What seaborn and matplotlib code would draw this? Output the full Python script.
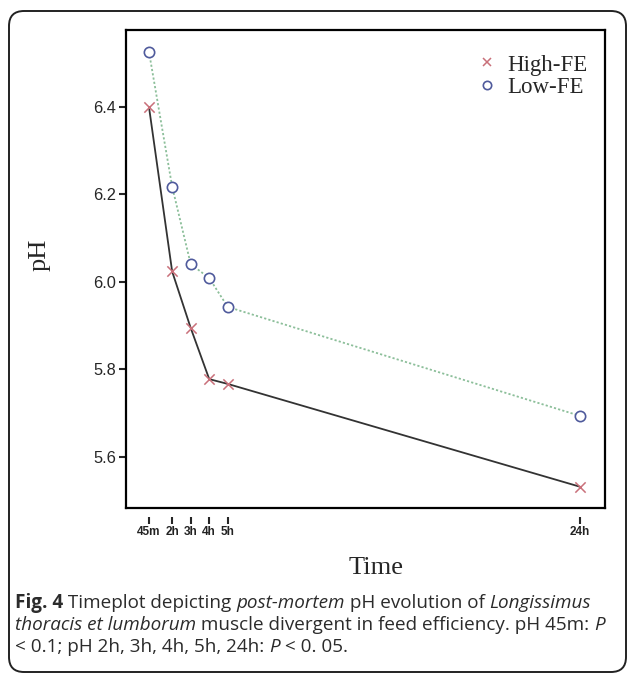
import matplotlib
matplotlib.use("Agg")
import matplotlib.pyplot as plt
import seaborn as sns
import pandas as pd
from matplotlib.patches import FancyBboxPatch
from matplotlib.lines import Line2D

# data
hours = [0.75, 2, 3, 4, 5, 24]
time_labels = ["45m", "2h", "3h", "4h", "5h", "24h"]
high_fe = [6.40, 6.024, 5.895, 5.778, 5.767, 5.532]
low_fe = [6.526, 6.218, 6.041, 6.009, 5.943, 5.694]
y_ticks = [5.6, 5.8, 6.0, 6.2, 6.4]

df = pd.DataFrame({"Time": hours * 2,
                   "pH": high_fe + low_fe,
                   "Group": ["High-FE"] * 6 + ["Low-FE"] * 6})

sns.set_style("white")
plt.rcParams["font.family"] = ["Liberation Sans", "DejaVu Sans"]

fig = plt.figure(figsize=(6.27, 6.74), dpi=100)
ax = fig.add_axes([126 / 627, 1 - 508 / 674, (605 - 126) / 627, (508 - 30) / 674])

hi = df[df.Group == "High-FE"]
lo = df[df.Group == "Low-FE"]

sns.lineplot(data=hi, x="Time", y="pH", color="#333333", linewidth=1.3, ax=ax)
sns.lineplot(data=lo, x="Time", y="pH", color="#8cbf9a", linewidth=1.3,
             linestyle=(0, (1.2, 1.2)), ax=ax)
sns.scatterplot(data=hi, x="Time", y="pH", marker="x", s=55, color="#c9707a",
                linewidth=1.1, ax=ax, zorder=4)
sns.scatterplot(data=lo, x="Time", y="pH", marker="o", s=55, facecolor="white",
                edgecolor="#4f5a9c", linewidth=1.2, ax=ax, zorder=4)

ax.set_xlim(-0.49, 25.35)
ax.set_ylim(5.4834, 6.576)
ax.set_yticks(y_ticks)
ax.set_yticklabels([f"{v:.1f}" for v in y_ticks], fontsize=11.8)
ax.tick_params(axis="y", direction="out", length=5, width=1.5, pad=2, left=True)
ax.set_xticks([])
ax.set_xlabel("")
ax.set_ylabel("pH", family="Liberation Serif", fontsize=19)
ax.yaxis.set_label_coords(-0.158, 0.53)

for sp in ax.spines.values():
    sp.set_visible(True)
    sp.set_color("black")
    sp.set_linewidth(1.6)

# detached time axis below the frame
sec = ax.secondary_xaxis(-0.018)
sec.set_xticks(hours)
sec.set_xticklabels(time_labels, fontsize=8.5, fontweight="bold", color="#222222")
sec.tick_params(direction="out", length=5, width=1.5, pad=2)
sec.spines["bottom"].set_visible(False)

fig.text(376 / 627, 1 - 568 / 674, "Time", family="Liberation Serif", fontsize=19,
         ha="center", va="center")

handles = [Line2D([], [], marker="x", color="#c9707a", linestyle="none",
                  markersize=6, markeredgewidth=1.1),
           Line2D([], [], marker="o", markerfacecolor="white", markeredgecolor="#4f5a9c",
                  linestyle="none", markersize=6, markeredgewidth=1.2)]
leg = ax.legend(handles, ["High-FE", "Low-FE"], loc="upper right", frameon=False,
                prop={"family": "Liberation Serif", "size": 16.5}, handlelength=0.8,
                handletextpad=0.5, labelspacing=0.05, borderaxespad=0.0,
                bbox_to_anchor=(0.983, 0.968))

# rounded frame around figure
frame = FancyBboxPatch((0.09, 0.02), 6.17, 6.61, boxstyle="round,pad=0,rounding_size=0.15",
                       transform=fig.dpi_scale_trans, fill=False, edgecolor="#222222",
                       linewidth=1.4)
fig.patches.append(frame)

# caption with mixed styles
caption = [
    [("Fig. 4", "bold", "normal"), (" Timeplot depicting ", "normal", "normal"),
     ("post-mortem", "normal", "italic"), (" pH evolution of ", "normal", "normal"),
     ("Longissimus", "normal", "italic")],
    [("thoracis et lumborum", "normal", "italic"),
     (" muscle divergent in feed efficiency. pH 45m: ", "normal", "normal"),
     ("P", "normal", "italic")],
    [("< 0.1; pH 2h, 3h, 4h, 5h, 24h: ", "normal", "normal"), ("P", "normal", "italic"),
     (" < 0. 05.", "normal", "normal")],
]
line_y = [603, 625, 647]
renderer = fig.canvas.get_renderer()
for parts, py in zip(caption, line_y):
    x = 15 / 627
    for txt, weight, style in parts:
        t = fig.text(x, 1 - py / 674, txt, family="Open Sans", fontsize=13.6,
                     fontweight=weight, fontstyle=style, color="#2b2b2b", va="center")
        bb = t.get_window_extent(renderer)
        x += bb.width / fig.bbox.width

fig.savefig("out.png", dpi=100)
